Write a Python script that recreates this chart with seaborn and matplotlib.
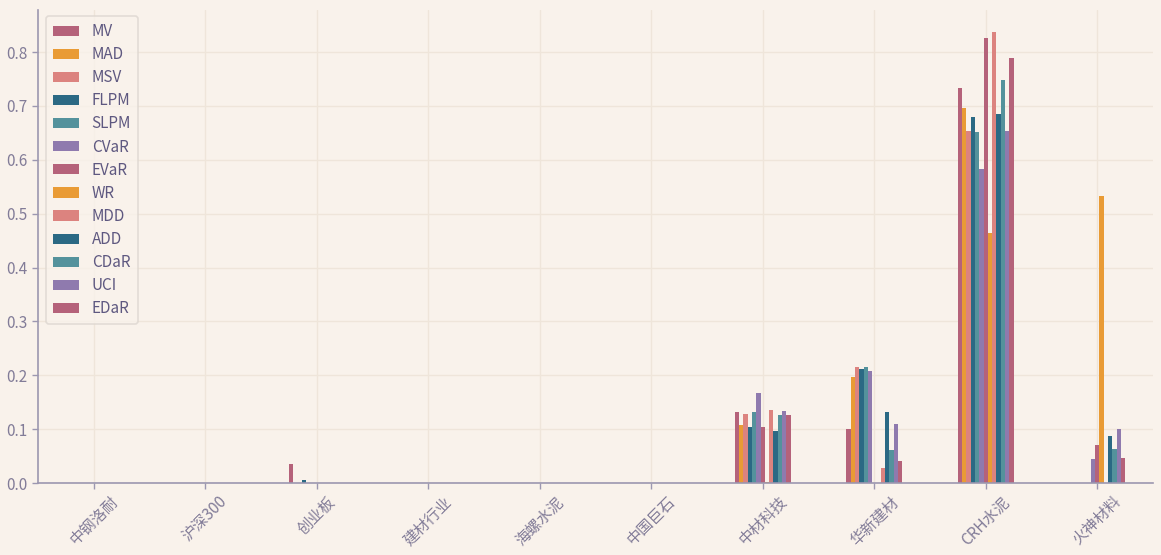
import numpy as np
import pandas as pd
import matplotlib
matplotlib.use("Agg")
import matplotlib.pyplot as plt
import seaborn as sns

categories = ["中钢洛耐", "沪深300", "创业板", "建材行业", "海螺水泥", "中国巨石",
              "中材科技", "华新建材", "CRH水泥", "火神材料"]
series = ["MV", "MAD", "MSV", "FLPM", "SLPM", "CVaR", "EVaR", "WR", "MDD",
          "ADD", "CDaR", "UCI", "EDaR"]

# values per series, one entry per category
MV   = [0, 0, 0.035, 0, 0, 0, 0.131, 0.101, 0.734, 0]
MAD  = [0, 0, 0, 0, 0, 0, 0.108, 0.196, 0.696, 0]
MSV  = [0, 0, 0, 0, 0, 0, 0.129, 0.216, 0.654, 0]
FLPM = [0, 0, 0.005, 0, 0, 0, 0.104, 0.211, 0.679, 0]
SLPM = [0, 0, 0, 0, 0, 0, 0.131, 0.216, 0.651, 0]
CVaR = [0, 0, 0, 0, 0, 0, 0.167, 0.207, 0.583, 0.044]
EVaR = [0, 0, 0, 0, 0, 0, 0.104, 0, 0.826, 0.070]
WR   = [0, 0, 0, 0, 0, 0, 0.002, 0, 0.464, 0.533]
MDD  = [0, 0, 0, 0, 0, 0, 0.135, 0.027, 0.837, 0]
ADD  = [0, 0, 0, 0, 0, 0, 0.096, 0.131, 0.685, 0.087]
CDaR = [0, 0, 0, 0, 0, 0, 0.126, 0.061, 0.748, 0.064]
UCI  = [0, 0, 0, 0, 0, 0, 0.133, 0.110, 0.654, 0.101]
EDaR = [0, 0, 0, 0, 0, 0, 0.126, 0.041, 0.788, 0.046]

values = [MV, MAD, MSV, FLPM, SLPM, CVaR, EVaR, WR, MDD, ADD, CDaR, UCI, EDaR]

base_colors = ["#B5627A", "#E99B35", "#DC837F", "#2B6984", "#54929C", "#8F7AAE"]
palette = [base_colors[i % 6] for i in range(len(series))]

rows = []
for s, vals in zip(series, values):
    for c, v in zip(categories, vals):
        rows.append({"cat": c, "series": s, "val": v})
df = pd.DataFrame(rows)

bg = "#F9F2EB"
sns.set_theme(style="white")
plt.rcParams["font.family"] = ["Noto Sans CJK SC", "DejaVu Sans"]

fig = plt.figure(figsize=(11.61, 5.55), dpi=100, facecolor=bg)
ax = fig.add_axes([38 / 1161, 72 / 555, (1153 - 38) / 1161, (483 - 10) / 555])
ax.set_facecolor(bg)

sns.barplot(data=df, x="cat", y="val", hue="series", order=categories,
            hue_order=series, palette=palette, width=0.5, errorbar=None,
            saturation=1, ax=ax, edgecolor="none", linewidth=0)

ax.set_xlim(-0.5, len(categories) - 0.5)
ax.set_ylim(0, 0.878)
ax.set_yticks([0, 0.1, 0.2, 0.3, 0.4, 0.5, 0.6, 0.7, 0.8])
ax.set_yticklabels([f"{t:.1f}" for t in ax.get_yticks()])
ax.set_xlabel("")
ax.set_ylabel("")

grid_c = "#EFE5DA"
ax.grid(True, color=grid_c, linewidth=1)
ax.set_axisbelow(True)

spine_c = "#9C97B0"
for side in ["top", "right"]:
    ax.spines[side].set_visible(False)
for side in ["left", "bottom"]:
    ax.spines[side].set_color(spine_c)
    ax.spines[side].set_linewidth(1.2)

tick_c = "#827C98"
ax.tick_params(axis="both", colors=spine_c, labelcolor=tick_c, labelsize=11,
               length=4, width=1, direction="out", bottom=True, left=True)
for lab in ax.get_xticklabels():
    lab.set_rotation(45)
    lab.set_ha("center")

handles, labels = ax.get_legend_handles_labels()
leg = ax.legend(handles, labels, loc="upper left", bbox_to_anchor=(0.007, 0.987),
                borderaxespad=0, frameon=True, fontsize=11, handlelength=1.75,
                handleheight=0.65, labelspacing=0.4, borderpad=0.45,
                handletextpad=0.8)
leg.get_frame().set_facecolor(bg)
leg.get_frame().set_edgecolor("#DDD6D0")
leg.get_frame().set_linewidth(1.2)
for t in leg.get_texts():
    t.set_color("#5E5880")

fig.savefig("out.png", dpi=100, facecolor=bg)
